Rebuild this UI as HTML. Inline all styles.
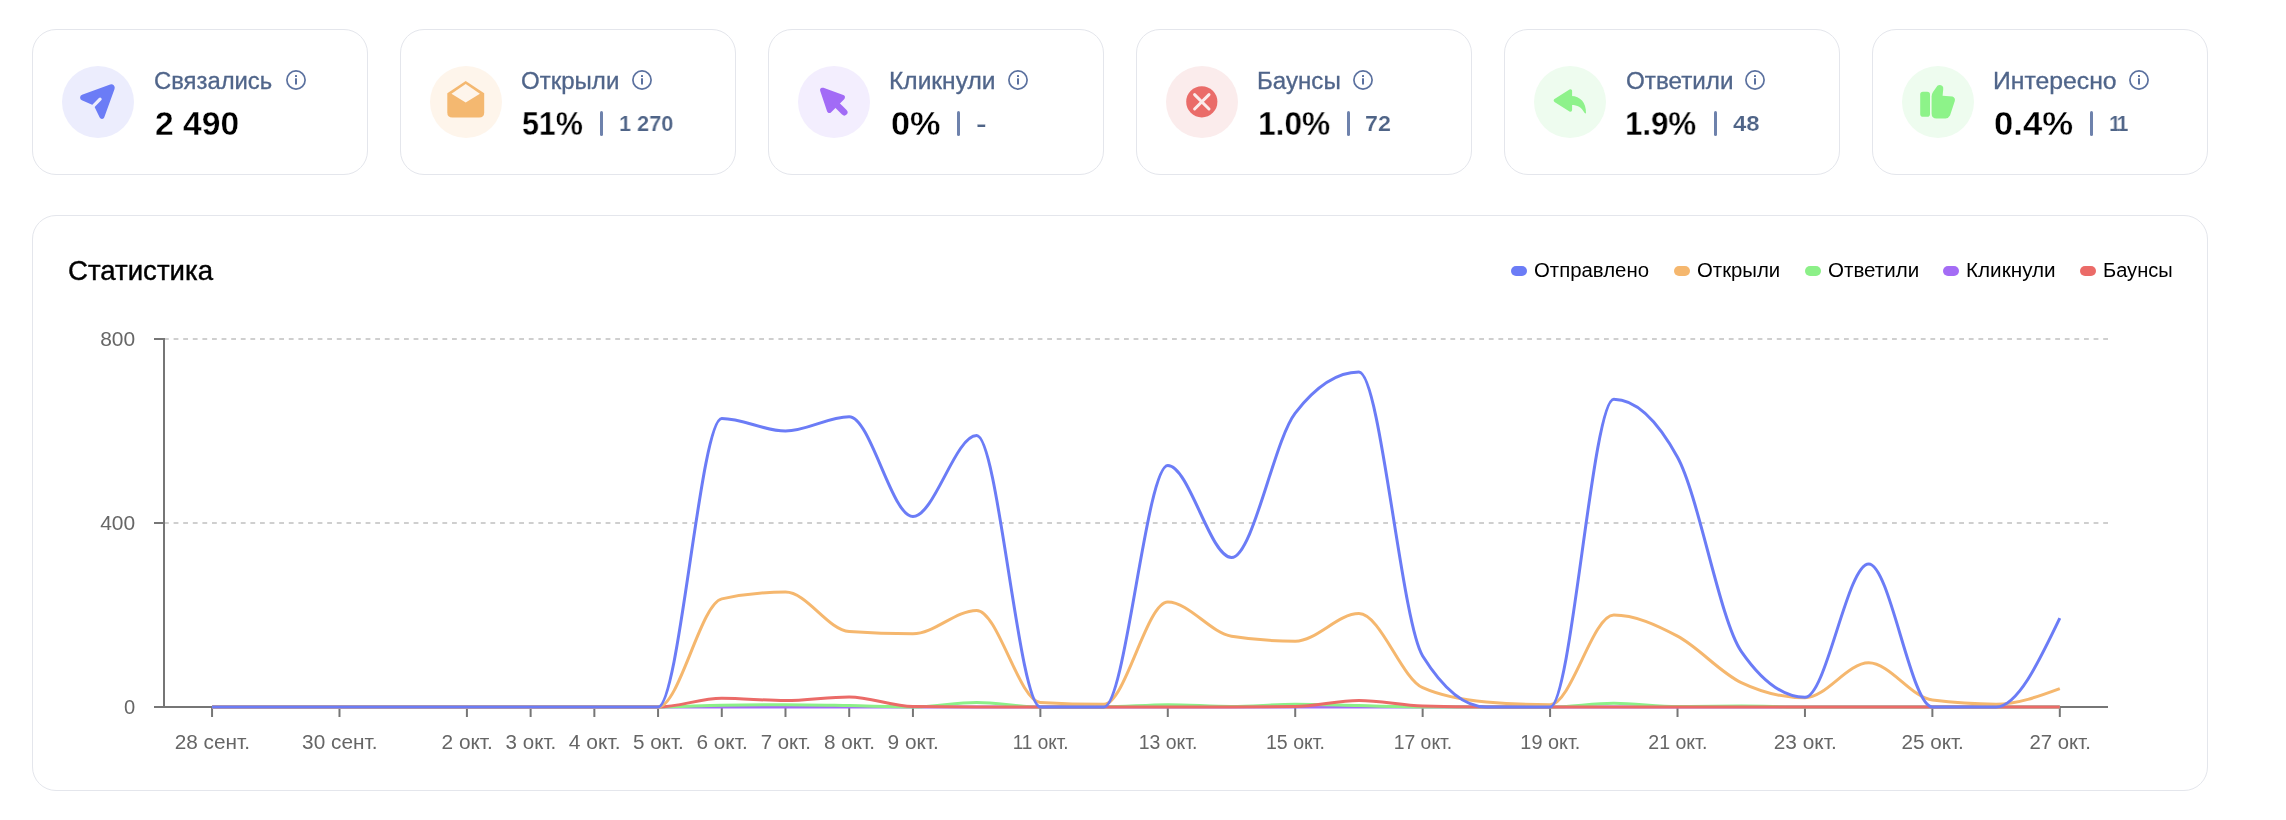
<!DOCTYPE html>
<html lang="ru"><head><meta charset="utf-8"><title>Статистика</title>
<style>
*{margin:0;padding:0;box-sizing:border-box}
html,body{width:2286px;height:820px;background:#fff;overflow:hidden}
body{position:relative;font-family:"Liberation Sans",sans-serif;color:#000}
.card{position:absolute;top:29px;width:336px;height:146px;border:1px solid #E4E6EC;border-radius:24px;background:#fff}
.ico{position:absolute;left:29px;top:36px;width:72px;height:72px}
.t{position:absolute;white-space:nowrap;line-height:1;transform-origin:0 0;will-change:transform}
.lbl{font-size:23px;color:#50658A;top:40.4px;-webkit-text-stroke:0.3px #50658A}
.num{font-size:33px;font-weight:700;color:#000;top:77.3px;-webkit-text-stroke:0.35px #fff}
.cnt{font-size:22.6px;font-weight:700;color:#4F6487;top:83px;-webkit-text-stroke:0.2px #fff}
.sep{position:absolute;top:81px;width:3px;height:25px;border-radius:1.5px;background:#6E82AC}
.info{position:absolute;top:39px;width:22px;height:22px}
.panel{position:absolute;left:32px;top:215px;width:2176px;height:576px;border:1px solid #E4E6EC;border-radius:24px;background:#fff}
.title{font-size:27.4px;top:41.2px;color:#000;-webkit-text-stroke:0.4px #000}
.lg{font-size:20px;top:43.6px;color:#000}
.pill{position:absolute;top:49.9px;width:16.2px;height:10.3px;border-radius:5.2px}
.chart{position:absolute;left:-33px;top:-216px;will-change:transform}
</style></head><body>

<div class="card" style="left:32px">
<svg class="ico" viewBox="0 0 72 72"><circle cx="36" cy="36" r="36" fill="#ECEDFD"/><path d="M52.54,22.92A3.40,3.40 0 0 0 48.18,18.57L20.06,28.75A3.00,3.00 0 0 0 19.87,34.31L31.84,39.56L37.71,51.51A2.50,2.50 0 0 0 42.30,51.26Z" fill="#6B7CF6"/><line x1="30" y1="41.4" x2="38.1" y2="33.15" stroke="#ECEDFD" stroke-width="3.2" stroke-linecap="round"/></svg>
<div class="t lbl" id="lbl32" style="left:120.96px;transform:scaleX(1.0357);">Связались</div>
<svg class="info" style="left:252.0px" viewBox="0 0 22 22"><circle cx="11" cy="11" r="9.1" fill="none" stroke="#5B719F" stroke-width="1.7"/><rect x="10" y="9.3" width="2" height="6.2" fill="#5B719F"/><rect x="10" y="6.1" width="2" height="1.9" fill="#5B719F"/></svg>
<div class="t num" id="num32" style="left:121.98px;transform:scaleX(1.0181);">2 490</div>
</div>
<div class="card" style="left:400px">
<svg class="ico" viewBox="0 0 72 72"><circle cx="36" cy="36" r="36" fill="#FEF5EB"/><path d="M35.7,15 L54.2,27.2 L54.2,46.4 Q54.2,51.4 49.2,51.4 L22.3,51.4 Q17.3,51.4 17.3,46.4 L17.3,27.2 Z" fill="#F4B870"/><path d="M35.7,18 L49.9,27.7 L35.7,36.5 L21.5,27.7 Z" fill="#FEF5EB"/></svg>
<div class="t lbl" id="lbl400" style="left:120.34px;transform:scaleX(1.0449);">Открыли</div>
<svg class="info" style="left:230.0px" viewBox="0 0 22 22"><circle cx="11" cy="11" r="9.1" fill="none" stroke="#5B719F" stroke-width="1.7"/><rect x="10" y="9.3" width="2" height="6.2" fill="#5B719F"/><rect x="10" y="6.1" width="2" height="1.9" fill="#5B719F"/></svg>
<div class="t num" id="num400" style="left:121.28px;transform:scaleX(0.9202);">51%</div>
<div class="sep" style="left:198.5px"></div>
<div class="t cnt" id="cnt400" style="left:218.47px;transform:scaleX(0.9603);">1 270</div>
</div>
<div class="card" style="left:768px">
<svg class="ico" viewBox="0 0 72 72"><circle cx="36" cy="36" r="36" fill="#F3EEFE"/><path d="M24.6,24.2 L44.4,31.4 L31.4,44.4 Z" fill="#A26BF6" stroke="#A26BF6" stroke-width="5" stroke-linejoin="round"/><line x1="38" y1="38" x2="46.3" y2="46.3" stroke="#A26BF6" stroke-width="6.4" stroke-linecap="round"/></svg>
<div class="t lbl" id="lbl768" style="left:120.25px;transform:scaleX(1.0676);">Кликнули</div>
<svg class="info" style="left:238.0px" viewBox="0 0 22 22"><circle cx="11" cy="11" r="9.1" fill="none" stroke="#5B719F" stroke-width="1.7"/><rect x="10" y="9.3" width="2" height="6.2" fill="#5B719F"/><rect x="10" y="6.1" width="2" height="1.9" fill="#5B719F"/></svg>
<div class="t num" id="num768" style="left:121.95px;transform:scaleX(1.0376);">0%</div>
<div class="sep" style="left:187.5px"></div>
<div class="t cnt" id="cnt768" style="left:206.94px;transform:scaleX(1.4030);">-</div>
</div>
<div class="card" style="left:1136px">
<svg class="ico" viewBox="0 0 72 72"><circle cx="36" cy="36" r="36" fill="#FBECEC"/><circle cx="35.8" cy="35.8" r="15.6" fill="#EA6C69"/><path d="M28.6,28.6 L43,43 M43,28.6 L28.6,43" stroke="#FBECEC" stroke-width="3" stroke-linecap="round"/></svg>
<div class="t lbl" id="lbl1136" style="left:120.20px;transform:scaleX(1.0484);">Баунсы</div>
<svg class="info" style="left:215.4px" viewBox="0 0 22 22"><circle cx="11" cy="11" r="9.1" fill="none" stroke="#5B719F" stroke-width="1.7"/><rect x="10" y="9.3" width="2" height="6.2" fill="#5B719F"/><rect x="10" y="6.1" width="2" height="1.9" fill="#5B719F"/></svg>
<div class="t num" id="num1136" style="left:121.13px;transform:scaleX(0.9611);">1.0%</div>
<div class="sep" style="left:209.9px"></div>
<div class="t cnt" id="cnt1136" style="left:228.26px;transform:scaleX(1.0323);">72</div>
</div>
<div class="card" style="left:1504px">
<svg class="ico" viewBox="0 0 72 72"><circle cx="36" cy="36" r="36" fill="#EEFCEF"/><path d="M21.4,34.5 L36.4,25 L36.4,44 Z" fill="#8EF28B" stroke="#8EF28B" stroke-width="3.4" stroke-linejoin="round"/><path d="M37.5,30 C46,30 52.3,36.5 52,47.4 C50.8,47.4 50.4,46.6 50,46 C47.5,41.5 43.5,39 37.5,39 Z" fill="#8EF28B"/></svg>
<div class="t lbl" id="lbl1504" style="left:120.66px;transform:scaleX(1.0531);">Ответили</div>
<svg class="info" style="left:239.0px" viewBox="0 0 22 22"><circle cx="11" cy="11" r="9.1" fill="none" stroke="#5B719F" stroke-width="1.7"/><rect x="10" y="9.3" width="2" height="6.2" fill="#5B719F"/><rect x="10" y="6.1" width="2" height="1.9" fill="#5B719F"/></svg>
<div class="t num" id="num1504" style="left:120.43px;transform:scaleX(0.9472);">1.9%</div>
<div class="sep" style="left:209.1px"></div>
<div class="t cnt" id="cnt1504" style="left:228.06px;transform:scaleX(1.0611);">48</div>
</div>
<div class="card" style="left:1872px">
<svg class="ico" viewBox="0 0 72 72"><circle cx="36" cy="36" r="36" fill="#EEFCEF"/><rect x="18.2" y="25.8" width="9.8" height="24.9" rx="2.8" fill="#8DF389"/><path d="M29.6,30.6 Q29.6,28 31,26 L35.4,19.8 Q37.8,18.2 40.4,20 Q41.6,21.4 41.2,23.6 L40.6,29.8 L50.4,30.4 Q53.6,31.6 52.8,35 L48,49.6 Q46.4,52.6 43.4,52.6 L34.6,52.6 Q29.6,52.6 29.6,47.6 Z" fill="#8DF389"/></svg>
<div class="t lbl" id="lbl1872" style="left:120.05px;transform:scaleX(1.0758);">Интересно</div>
<svg class="info" style="left:255.2px" viewBox="0 0 22 22"><circle cx="11" cy="11" r="9.1" fill="none" stroke="#5B719F" stroke-width="1.7"/><rect x="10" y="9.3" width="2" height="6.2" fill="#5B719F"/><rect x="10" y="6.1" width="2" height="1.9" fill="#5B719F"/></svg>
<div class="t num" id="num1872" style="left:121.02px;transform:scaleX(1.0515);">0.4%</div>
<div class="sep" style="left:216.9px"></div>
<div class="t cnt" id="cnt1872" style="left:236.02px;transform:scaleX(0.9282);letter-spacing:-3px;">11</div>
</div>
<div class="panel">
<div class="t title" id="title" style="left:35.19px;transform:scaleX(1.0082);">Статистика</div>
<div class="pill" style="left:1478.0px;background:#6B7CF6"></div>
<div class="t lg" id="lg0" style="left:1500.53px;transform:scaleX(1.0184);">Отправлено</div>
<div class="pill" style="left:1640.9px;background:#F5B76E"></div>
<div class="t lg" id="lg1" style="left:1664.34px;transform:scaleX(1.0175);">Открыли</div>
<div class="pill" style="left:1771.8px;background:#8CF088"></div>
<div class="t lg" id="lg2" style="left:1794.84px;transform:scaleX(1.0278);">Ответили</div>
<div class="pill" style="left:1910.0px;background:#A46CF5"></div>
<div class="t lg" id="lg3" style="left:1932.66px;transform:scaleX(1.0340);">Кликнули</div>
<div class="pill" style="left:2047.1px;background:#EB6B68"></div>
<div class="t lg" id="lg4" style="left:2069.87px;transform:scaleX(1.0039);">Баунсы</div>
<svg class="chart" width="2286" height="820" viewBox="0 0 2286 820" xmlns="http://www.w3.org/2000/svg">
<line x1="164" y1="339.0" x2="2108" y2="339.0" stroke="#cfcfcf" stroke-width="2" stroke-dasharray="4.8 4.8"/>
<line x1="164" y1="523.0" x2="2108" y2="523.0" stroke="#cfcfcf" stroke-width="2" stroke-dasharray="4.8 4.8"/>
<line x1="164" y1="338" x2="164" y2="708" stroke="#767676" stroke-width="2"/>
<line x1="163" y1="707" x2="2108" y2="707" stroke="#767676" stroke-width="2"/>
<line x1="154" y1="339.0" x2="164" y2="339.0" stroke="#767676" stroke-width="2"/>
<line x1="154" y1="523.0" x2="164" y2="523.0" stroke="#767676" stroke-width="2"/>
<line x1="154" y1="707.0" x2="164" y2="707.0" stroke="#767676" stroke-width="2"/>
<line x1="212.05" y1="707" x2="212.05" y2="717" stroke="#767676" stroke-width="2"/>
<line x1="339.48" y1="707" x2="339.48" y2="717" stroke="#767676" stroke-width="2"/>
<line x1="466.91" y1="707" x2="466.91" y2="717" stroke="#767676" stroke-width="2"/>
<line x1="530.63" y1="707" x2="530.63" y2="717" stroke="#767676" stroke-width="2"/>
<line x1="594.35" y1="707" x2="594.35" y2="717" stroke="#767676" stroke-width="2"/>
<line x1="658.06" y1="707" x2="658.06" y2="717" stroke="#767676" stroke-width="2"/>
<line x1="721.78" y1="707" x2="721.78" y2="717" stroke="#767676" stroke-width="2"/>
<line x1="785.49" y1="707" x2="785.49" y2="717" stroke="#767676" stroke-width="2"/>
<line x1="849.21" y1="707" x2="849.21" y2="717" stroke="#767676" stroke-width="2"/>
<line x1="912.93" y1="707" x2="912.93" y2="717" stroke="#767676" stroke-width="2"/>
<line x1="1040.36" y1="707" x2="1040.36" y2="717" stroke="#767676" stroke-width="2"/>
<line x1="1167.79" y1="707" x2="1167.79" y2="717" stroke="#767676" stroke-width="2"/>
<line x1="1295.22" y1="707" x2="1295.22" y2="717" stroke="#767676" stroke-width="2"/>
<line x1="1422.65" y1="707" x2="1422.65" y2="717" stroke="#767676" stroke-width="2"/>
<line x1="1550.09" y1="707" x2="1550.09" y2="717" stroke="#767676" stroke-width="2"/>
<line x1="1677.52" y1="707" x2="1677.52" y2="717" stroke="#767676" stroke-width="2"/>
<line x1="1804.95" y1="707" x2="1804.95" y2="717" stroke="#767676" stroke-width="2"/>
<line x1="1932.38" y1="707" x2="1932.38" y2="717" stroke="#767676" stroke-width="2"/>
<line x1="2059.81" y1="707" x2="2059.81" y2="717" stroke="#767676" stroke-width="2"/>
<g font-family="Liberation Sans, sans-serif" font-size="19.6" fill="#666">
<text x="135.2" y="346.1" text-anchor="end" textLength="35.0" lengthAdjust="spacingAndGlyphs">800</text>
<text x="135.2" y="530.1" text-anchor="end" textLength="35.0" lengthAdjust="spacingAndGlyphs">400</text>
<text x="135.2" y="714.1" text-anchor="end" textLength="11.2" lengthAdjust="spacingAndGlyphs">0</text>
<text x="212.35" y="749.3" text-anchor="middle" textLength="75.3" lengthAdjust="spacingAndGlyphs">28 сент.</text>
<text x="339.78" y="749.3" text-anchor="middle" textLength="75.3" lengthAdjust="spacingAndGlyphs">30 сент.</text>
<text x="467.21" y="749.3" text-anchor="middle" textLength="51.4" lengthAdjust="spacingAndGlyphs">2 окт.</text>
<text x="530.93" y="749.3" text-anchor="middle" textLength="50.6" lengthAdjust="spacingAndGlyphs">3 окт.</text>
<text x="594.65" y="749.3" text-anchor="middle" textLength="51.7" lengthAdjust="spacingAndGlyphs">4 окт.</text>
<text x="658.36" y="749.3" text-anchor="middle" textLength="50.9" lengthAdjust="spacingAndGlyphs">5 окт.</text>
<text x="722.08" y="749.3" text-anchor="middle" textLength="51.2" lengthAdjust="spacingAndGlyphs">6 окт.</text>
<text x="785.79" y="749.3" text-anchor="middle" textLength="50.2" lengthAdjust="spacingAndGlyphs">7 окт.</text>
<text x="849.51" y="749.3" text-anchor="middle" textLength="51.0" lengthAdjust="spacingAndGlyphs">8 окт.</text>
<text x="913.23" y="749.3" text-anchor="middle" textLength="51.4" lengthAdjust="spacingAndGlyphs">9 окт.</text>
<text x="1040.66" y="749.3" text-anchor="middle" textLength="55.9" lengthAdjust="spacingAndGlyphs">11 окт.</text>
<text x="1168.09" y="749.3" text-anchor="middle" textLength="58.8" lengthAdjust="spacingAndGlyphs">13 окт.</text>
<text x="1295.52" y="749.3" text-anchor="middle" textLength="59.1" lengthAdjust="spacingAndGlyphs">15 окт.</text>
<text x="1422.95" y="749.3" text-anchor="middle" textLength="58.5" lengthAdjust="spacingAndGlyphs">17 окт.</text>
<text x="1550.39" y="749.3" text-anchor="middle" textLength="60.0" lengthAdjust="spacingAndGlyphs">19 окт.</text>
<text x="1677.82" y="749.3" text-anchor="middle" textLength="59.1" lengthAdjust="spacingAndGlyphs">21 окт.</text>
<text x="1805.25" y="749.3" text-anchor="middle" textLength="63.0" lengthAdjust="spacingAndGlyphs">23 окт.</text>
<text x="1932.68" y="749.3" text-anchor="middle" textLength="62.4" lengthAdjust="spacingAndGlyphs">25 окт.</text>
<text x="2060.11" y="749.3" text-anchor="middle" textLength="61.4" lengthAdjust="spacingAndGlyphs">27 окт.</text>
</g>
<path d="M212.05,707.00C233.29,707.00,254.53,707.00,275.77,707.00C297.00,707.00,318.24,707.00,339.48,707.00C360.72,707.00,381.96,707.00,403.20,707.00C424.44,707.00,445.68,707.00,466.91,707.00C488.15,707.00,509.39,707.00,530.63,707.00C551.87,707.00,573.11,707.00,594.35,707.00C615.58,707.00,636.82,707.00,658.06,707.00C679.30,707.00,700.54,707.00,721.78,707.00C743.02,707.00,764.26,707.00,785.49,707.00C806.73,707.00,827.97,707.00,849.21,707.00C870.45,707.00,891.69,707.00,912.93,707.00C934.16,707.00,955.40,707.00,976.64,707.00C997.88,707.00,1019.12,707.00,1040.36,707.00C1061.60,707.00,1082.84,707.00,1104.07,707.00C1125.31,707.00,1146.55,707.00,1167.79,707.00C1189.03,707.00,1210.27,707.00,1231.51,707.00C1252.74,707.00,1273.98,707.00,1295.22,707.00C1316.46,707.00,1337.70,707.00,1358.94,707.00C1380.18,707.00,1401.42,707.00,1422.65,707.00C1443.89,707.00,1465.13,707.00,1486.37,707.00C1507.61,707.00,1528.85,707.00,1550.09,707.00C1571.32,707.00,1592.56,707.00,1613.80,707.00C1635.04,707.00,1656.28,707.00,1677.52,707.00C1698.76,707.00,1720.00,707.00,1741.23,707.00C1762.47,707.00,1783.71,707.00,1804.95,707.00C1826.19,707.00,1847.43,707.00,1868.67,707.00C1889.90,707.00,1911.14,707.00,1932.38,707.00C1953.62,707.00,1974.86,707.00,1996.10,707.00C2017.34,707.00,2038.58,707.00,2059.81,707.00" fill="none" stroke="#A46CF5" stroke-width="3" stroke-linejoin="round" stroke-linecap="butt"/>
<path d="M212.05,707.00C233.29,707.00,254.53,707.00,275.77,707.00C297.00,707.00,318.24,707.00,339.48,707.00C360.72,707.00,381.96,707.00,403.20,707.00C424.44,707.00,445.68,707.00,466.91,707.00C488.15,707.00,509.39,707.00,530.63,707.00C551.87,707.00,573.11,707.00,594.35,707.00C615.58,707.00,636.82,707.00,658.06,707.00C679.30,707.00,700.54,705.47,721.78,705.16C743.02,704.85,764.26,704.70,785.49,704.70C806.73,704.70,827.97,705.24,849.21,705.62C870.45,706.00,891.69,707.00,912.93,707.00C934.16,707.00,955.40,702.40,976.64,702.40C997.88,702.40,1019.12,707.00,1040.36,707.00C1061.60,707.00,1082.84,707.00,1104.07,707.00C1125.31,707.00,1146.55,704.70,1167.79,704.70C1189.03,704.70,1210.27,706.54,1231.51,706.54C1252.74,706.54,1273.98,704.24,1295.22,704.24C1316.46,704.24,1337.70,705.16,1358.94,705.62C1380.18,706.08,1401.42,707.00,1422.65,707.00C1443.89,707.00,1465.13,707.00,1486.37,707.00C1507.61,707.00,1528.85,707.00,1550.09,707.00C1571.32,707.00,1592.56,703.32,1613.80,703.32C1635.04,703.32,1656.28,706.54,1677.52,706.54C1698.76,706.54,1720.00,706.08,1741.23,706.08C1762.47,706.08,1783.71,707.00,1804.95,707.00C1826.19,707.00,1847.43,707.00,1868.67,707.00C1889.90,707.00,1911.14,707.00,1932.38,707.00C1953.62,707.00,1974.86,707.00,1996.10,707.00C2017.34,707.00,2038.58,707.00,2059.81,707.00" fill="none" stroke="#8CF088" stroke-width="3" stroke-linejoin="round" stroke-linecap="butt"/>
<path d="M212.05,707.00C233.29,707.00,254.53,707.00,275.77,707.00C297.00,707.00,318.24,707.00,339.48,707.00C360.72,707.00,381.96,707.00,403.20,707.00C424.44,707.00,445.68,707.00,466.91,707.00C488.15,707.00,509.39,707.00,530.63,707.00C551.87,707.00,573.11,707.00,594.35,707.00C615.58,707.00,636.82,707.00,658.06,707.00C679.30,707.00,700.54,698.26,721.78,698.26C743.02,698.26,764.26,700.56,785.49,700.56C806.73,700.56,827.97,696.88,849.21,696.88C870.45,696.88,891.69,706.23,912.93,706.54C934.16,706.85,955.40,707.00,976.64,707.00C997.88,707.00,1019.12,707.00,1040.36,707.00C1061.60,707.00,1082.84,707.00,1104.07,707.00C1125.31,707.00,1146.55,707.00,1167.79,707.00C1189.03,707.00,1210.27,707.00,1231.51,707.00C1252.74,707.00,1273.98,706.85,1295.22,706.54C1316.46,706.23,1337.70,700.56,1358.94,700.56C1380.18,700.56,1401.42,705.47,1422.65,706.08C1443.89,706.69,1465.13,707.00,1486.37,707.00C1507.61,707.00,1528.85,707.00,1550.09,707.00C1571.32,707.00,1592.56,707.00,1613.80,707.00C1635.04,707.00,1656.28,707.00,1677.52,707.00C1698.76,707.00,1720.00,707.00,1741.23,707.00C1762.47,707.00,1783.71,707.00,1804.95,707.00C1826.19,707.00,1847.43,707.00,1868.67,707.00C1889.90,707.00,1911.14,707.00,1932.38,707.00C1953.62,707.00,1974.86,707.00,1996.10,707.00C2017.34,707.00,2038.58,707.00,2059.81,707.00" fill="none" stroke="#EB6B68" stroke-width="3" stroke-linejoin="round" stroke-linecap="butt"/>
<path d="M212.05,707.00C233.29,707.00,254.53,707.00,275.77,707.00C297.00,707.00,318.24,707.00,339.48,707.00C360.72,707.00,381.96,707.00,403.20,707.00C424.44,707.00,445.68,707.00,466.91,707.00C488.15,707.00,509.39,707.00,530.63,707.00C551.87,707.00,573.11,707.00,594.35,707.00C615.58,707.00,636.82,707.00,658.06,707.00C679.30,707.00,700.54,603.50,721.78,598.90C743.02,594.30,764.26,592.00,785.49,592.00C806.73,592.00,827.97,630.03,849.21,631.56C870.45,633.09,891.69,633.86,912.93,633.86C934.16,633.86,955.40,610.40,976.64,610.40C997.88,610.40,1019.12,701.17,1040.36,702.40C1061.60,703.63,1082.84,704.24,1104.07,704.24C1125.31,704.24,1146.55,602.12,1167.79,602.12C1189.03,602.12,1210.27,632.79,1231.51,636.16C1252.74,639.53,1273.98,641.22,1295.22,641.22C1316.46,641.22,1337.70,613.62,1358.94,613.62C1380.18,613.62,1401.42,678.17,1422.65,687.68C1443.89,697.19,1465.13,700.10,1486.37,701.94C1507.61,703.78,1528.85,704.70,1550.09,704.70C1571.32,704.70,1592.56,615.00,1613.80,615.00C1635.04,615.00,1656.28,624.89,1677.52,636.16C1698.76,647.43,1720.00,672.50,1741.23,682.62C1762.47,692.74,1783.71,697.80,1804.95,697.80C1826.19,697.80,1847.43,662.84,1868.67,662.84C1889.90,662.84,1911.14,697.34,1932.38,700.10C1953.62,702.86,1974.86,704.24,1996.10,704.24C2017.34,704.24,2038.58,696.42,2059.81,688.60" fill="none" stroke="#F5B76E" stroke-width="3" stroke-linejoin="round" stroke-linecap="butt"/>
<path d="M212.05,707.00C233.29,707.00,254.53,707.00,275.77,707.00C297.00,707.00,318.24,707.00,339.48,707.00C360.72,707.00,381.96,707.00,403.20,707.00C424.44,707.00,445.68,707.00,466.91,707.00C488.15,707.00,509.39,707.00,530.63,707.00C551.87,707.00,573.11,707.00,594.35,707.00C615.58,707.00,636.82,707.00,658.06,707.00C679.30,707.00,700.54,418.58,721.78,418.58C743.02,418.58,764.26,431.00,785.49,431.00C806.73,431.00,827.97,416.74,849.21,416.74C870.45,416.74,891.69,516.56,912.93,516.56C934.16,516.56,955.40,435.60,976.64,435.60C997.88,435.60,1019.12,707.00,1040.36,707.00C1061.60,707.00,1082.84,707.00,1104.07,707.00C1125.31,707.00,1146.55,465.50,1167.79,465.50C1189.03,465.50,1210.27,557.50,1231.51,557.50C1252.74,557.50,1273.98,440.35,1295.22,413.06C1316.46,385.77,1337.70,372.12,1358.94,372.12C1380.18,372.12,1401.42,621.90,1422.65,655.94C1443.89,689.98,1465.13,707.00,1486.37,707.00C1507.61,707.00,1528.85,707.00,1550.09,707.00C1571.32,707.00,1592.56,399.26,1613.80,399.26C1635.04,399.26,1656.28,418.58,1677.52,457.22C1698.76,495.86,1720.00,620.67,1741.23,651.34C1762.47,682.01,1783.71,697.34,1804.95,697.34C1826.19,697.34,1847.43,563.94,1868.67,563.94C1889.90,563.94,1911.14,707.00,1932.38,707.00C1953.62,707.00,1974.86,707.00,1996.10,707.00C2017.34,707.00,2038.58,662.61,2059.81,618.22" fill="none" stroke="#6B7CF6" stroke-width="3" stroke-linejoin="round" stroke-linecap="butt"/>
</svg>
</div>
</body></html>
